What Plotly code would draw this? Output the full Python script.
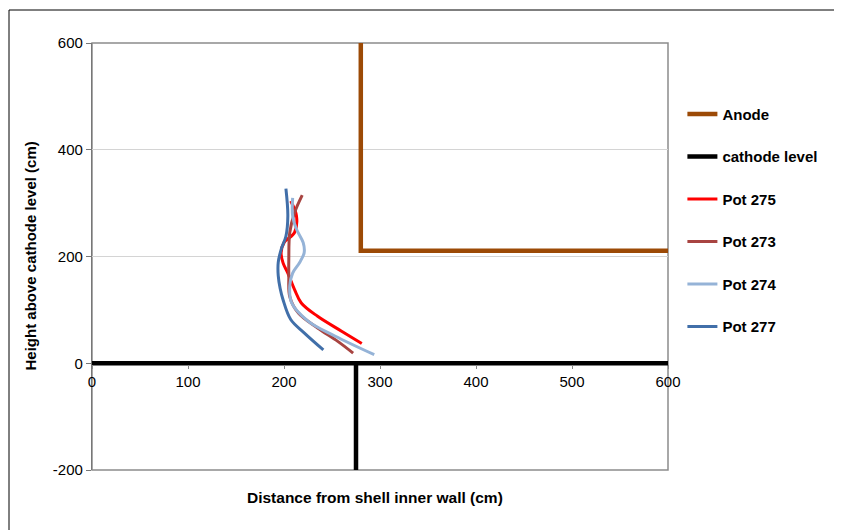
import plotly.graph_objects as go

# ---- data ----
anode_x = [280, 280, 600]
anode_y = [600, 211, 211]

cathode_x = [0, 275, 275, 275, 600]
cathode_y = [0, 0, -200, 0, 0]

pot275_x = [207, 213, 211, 200, 197, 199, 204, 211, 218, 235, 260, 281]
pot275_y = [304, 276, 245, 226, 207, 188, 169, 138, 113, 88, 60, 37]

pot273_x = [219, 211, 206, 205, 205, 206, 215, 235, 256, 272]
pot273_y = [315, 282, 245, 195, 164, 125, 94, 66, 41, 19]

pot274_x = [209, 209, 213, 220, 221, 216, 209, 206, 208, 225, 253, 294]
pot274_y = [310, 276, 251, 226, 207, 188, 169, 145, 113, 79, 51, 16]

pot277_x = [202, 204, 202, 197, 194, 194, 196, 199, 207, 221, 241]
pot277_y = [327, 276, 238, 213, 189, 164, 140, 119, 82, 57, 25]

x_ticks = [0, 100, 200, 300, 400, 500, 600]
x_labels = ["0", "100", "200", "300", "400", "500", "600"]
y_ticks = [-200, 0, 200, 400, 600]
y_labels = ["-200", "0", "200", "400", "600"]

FONT = "Liberation Sans, Arial, sans-serif"

# figure is placed with an 8px page margin, so size it to fit the 842x530 window
W, H = 834, 522
ML, MT, PW, PH = 84, 35, 576, 427
MR, MB = W - ML - PW, H - MT - PH

fig = go.Figure()

fig.add_trace(go.Scatter(x=anode_x, y=anode_y, mode="lines", name="Anode",
                         line=dict(color="#9C4A06", width=4.5), legendgroup="a"))
fig.add_trace(go.Scatter(x=cathode_x, y=cathode_y, mode="lines", name="cathode level",
                         line=dict(color="#000000", width=4.5), legendgroup="c"))

pots = [
    ("Pot 275", pot275_x, pot275_y, "#FF0000"),
    ("Pot 273", pot273_x, pot273_y, "#A84441"),
    ("Pot 274", pot274_x, pot274_y, "#95B3D7"),
    ("Pot 277", pot277_x, pot277_y, "#416FA9"),
]
for name, xs, ys, col in pots:
    fig.add_trace(go.Scatter(x=xs, y=ys, mode="lines", name=name, legendgroup=name,
                             line=dict(color=col, width=3, shape="spline", smoothing=1.0)))

fig.update_layout(
    width=W, height=H,
    margin=dict(l=ML, r=MR, t=MT, b=MB),
    paper_bgcolor="white", plot_bgcolor="white",
    font=dict(family=FONT, size=15, color="#000000"),
    showlegend=True,
    legend=dict(x=1.025, xanchor="left", y=0.872, yanchor="top",
                font=dict(family=FONT, size=15, color="#000000", weight="bold"),
                tracegroupgap=20, bgcolor="rgba(0,0,0,0)"),
    xaxis=dict(range=[0, 600], tickvals=x_ticks, ticktext=x_labels, showgrid=False,
               zeroline=False, showline=False, ticks="outside", ticklen=4, tickcolor="#888",
               tickfont=dict(size=15, color="#000"),
               anchor="free", position=0.2494, fixedrange=True),
    yaxis=dict(range=[-200, 600], tickvals=y_ticks, ticktext=y_labels, showgrid=True,
               gridcolor="#d4d4d4", gridwidth=1, zeroline=False, showline=True,
               linecolor="#777", linewidth=1.2, ticks="outside", ticklen=5, tickcolor="#777",
               tickfont=dict(size=15, color="#000")),
    shapes=[
        dict(type="rect", xref="paper", yref="paper", x0=0, x1=1, y0=0, y1=1,
             line=dict(color="#8c8c8c", width=1.5), layer="below"),
        dict(type="rect", xref="paper", yref="paper",
             x0=(1 - ML) / PW, x1=(W + 20 - ML) / PW,
             y0=-0.4, y1=(MT + PH - 2) / PH,
             line=dict(color="#000000", width=1), layer="below"),
    ],
    annotations=[
        dict(text="Height above cathode level (cm)", xref="paper", yref="paper",
             x=(22 - ML) / PW, y=0.5, xanchor="center", yanchor="middle",
             textangle=-90, showarrow=False,
             font=dict(family=FONT, size=15, color="#000", weight="bold")),
        dict(text="Distance from shell inner wall (cm)", xref="paper", yref="paper",
             x=(367 - ML) / PW, y=-(489 - MT - PH) / PH, xanchor="center", yanchor="middle",
             showarrow=False,
             font=dict(family=FONT, size=15.5, color="#000", weight="bold")),
    ],
)

fig.write_html("out.html")
